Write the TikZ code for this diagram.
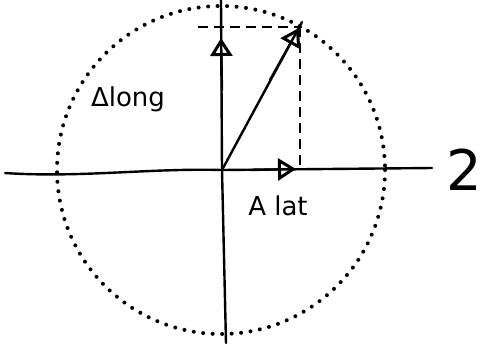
\documentclass[tikz,border=0pt]{standalone}
\usepackage{fontspec}
\setmainfont{DejaVu Sans}
\usetikzlibrary{arrows.meta}
\begin{document}
\begin{tikzpicture}[x=1pt,y=-1pt,
  axis/.style={line width=2.4pt,line cap=round},
  dotcircle/.style={line width=4pt,line cap=round,dash pattern=on 0pt off 9.5pt},
  dashline/.style={line width=2.4pt,dash pattern=on 10pt off 6pt},
  opentip/.style={-{Triangle[open,length=18pt,width=22pt,line width=3pt]}},
  lbl/.style={font=\fontsize{26}{28}\selectfont,inner sep=0pt}]
\useasboundingbox (0,0) rectangle (489,343);
\coordinate (O) at (222,170);
\coordinate (L) at (5,173);
\coordinate (R) at (432,168);
\coordinate (Top) at (221,0);
\coordinate (Bot) at (226,343);
\coordinate (T) at (302,22);
\coordinate (Hd) at (198,27);
\coordinate (Vd) at (300,165);
% dotted circle
\draw[dotcircle] (221,170) circle[radius=164];
% axes
\draw[axis] (L) .. controls (80,178) and (150,168) .. (O) -- (R);
\draw[axis] (Top) -- (O) -- (Bot);
% dashed components
\draw[dashline] (Hd) -- (Hd -| T);
\draw[dashline] (Hd -| Vd) -- (Vd);
% vector and component arrows
\draw[axis] (O) -- (T);
\draw[axis,opentip] (222,90) -- (221,38);
\draw[axis,opentip] (250,170) -- (296,169);
\draw[axis,opentip] (270,80) -- (299,28);
% labels
\node[lbl] (along) at (128,99) {Δlong};
\node[lbl] (alat) at (278,206) {A lat};
\node[lbl,font=\fontsize{56}{58}\selectfont] (two) at (464,170) {2};
\end{tikzpicture}
\end{document}
